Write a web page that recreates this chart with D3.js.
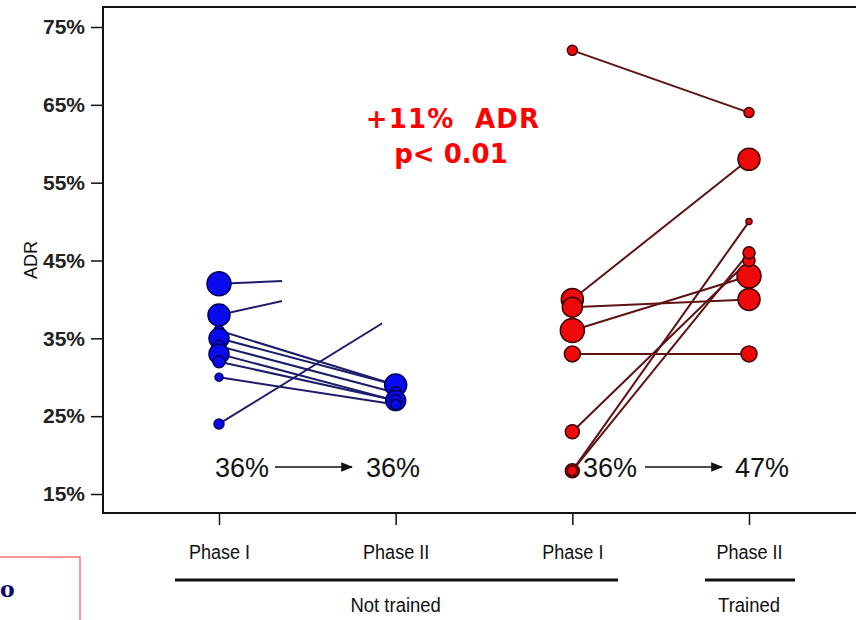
<!DOCTYPE html>
<html>
<head>
<meta charset="utf-8">
<script src="https://cdn.jsdelivr.net/npm/d3@7"></script>
<style>
  body { margin: 0; background: #fff; }
  svg { display: block; font-family: "Liberation Sans", Arial, sans-serif; }
</style>
</head>
<body>
<svg width="856" height="620"></svg>
<script>
// tick labels
var yTicks = [15, 25, 35, 45, 55, 65, 75];
var phases = ["Phase I", "Phase II", "Phase I", "Phase II"];
var groupLabels = ["Not trained", "Trained"];

// not trained (blue): phase I value, phase II value, circle radius at each end
var blueI = [42, 38, 36, 35, 34, 33, 32, 30, 24];
var blueII = [43, 43, 29, 29, 28, 27, 27, 26.5, 38];
var blueRI = [12, 11, 5, 10, 6, 10, 6, 4, 5];
var blueRII = [0, 0, 6, 11, 6, 10, 6, 5, 0];

// trained (red)
var redI = [72, 40, 39, 36, 33, 23, 18, 18];
var redII = [64, 58, 40, 43, 33, 45, 50, 46];
var redRI = [5, 11, 10, 12, 8, 7, 7, 5];
var redRII = [5, 11, 11, 12, 8, 6, 3, 6];

var means = [["36%", "36%"], ["36%", "47%"]];

var svg = d3.select("svg");

var y = d3.scaleLinear().domain([15, 75]).range([494, 27]);
var x = d3.scalePoint().domain([0, 1, 2, 3]).range([219, 749]);

var frame = { left: 103, top: 7, bottom: 513 };
var sans = "'Liberation Sans', Arial, sans-serif";

// plot frame (right side runs off the picture)
svg.append("path")
  .attr("d", "M880," + frame.top + "H" + frame.left + "V" + frame.bottom + "H880")
  .attr("fill", "none")
  .attr("stroke", "#111")
  .attr("stroke-width", 2);

// y axis
var yAxis = svg.append("g")
  .attr("transform", "translate(" + frame.left + ",0)")
  .call(d3.axisLeft(y).tickValues(yTicks).tickSize(12).tickPadding(6)
    .tickFormat(function (d) { return d + "%"; }));
yAxis.select(".domain").remove();
yAxis.attr("font-size", null).attr("font-family", null);
yAxis.selectAll("line").attr("stroke", "#111").attr("stroke-width", 1.5);
yAxis.selectAll("text")
  .attr("x", -18)
  .style("font-size", "21px")
  .style("font-weight", "bold")
  .style("font-family", sans)
  .attr("fill", "#222");

svg.append("text")
  .attr("transform", "translate(37,260) rotate(-90)")
  .attr("text-anchor", "middle")
  .style("font-size", "18px")
  .style("font-family", sans)
  .attr("fill", "#111")
  .text("ADR");

// x axis
var xAxis = svg.append("g")
  .attr("transform", "translate(0," + frame.bottom + ")")
  .call(d3.axisBottom(x).tickSize(12).tickPadding(19)
    .tickFormat(function (d) { return phases[d]; }));
xAxis.select(".domain").remove();
xAxis.attr("font-size", null).attr("font-family", null);
xAxis.selectAll("line").attr("stroke", "#111").attr("stroke-width", 1.5);
xAxis.selectAll("text")
  .attr("transform", "scale(0.86,1)")
  .style("font-size", "21px")
  .style("font-family", sans)
  .attr("fill", "#111");

// group brackets
var groups = [
  { label: groupLabels[0], x1: 175, x2: 618, cx: x(1) },
  { label: groupLabels[1], x1: 705, x2: 795, cx: x(3) }
];
groups.forEach(function (g) {
  svg.append("line")
    .attr("x1", g.x1).attr("x2", g.x2)
    .attr("y1", 580).attr("y2", 580)
    .attr("stroke", "#111").attr("stroke-width", 3);
  svg.append("text")
    .attr("transform", "translate(" + g.cx + ",612) scale(0.88,1)")
    .attr("text-anchor", "middle")
    .style("font-size", "21px")
    .style("font-family", sans)
    .attr("fill", "#111")
    .text(g.label);
});

function drawGroup(vI, vII, xi, col) {
  var g = svg.append("g");
  g.selectAll("line.pair")
    .data(d3.range(vI.length))
    .enter()
    .append("line")
    .attr("class", "pair")
    .attr("x1", x(xi)).attr("y1", function (i) { return y(vI[i]); })
    .attr("x2", x(xi + 1)).attr("y2", function (i) { return y(vII[i]); })
    .attr("stroke", col.line)
    .attr("stroke-width", 2);
  return g;
}

function drawDots(g, vals, rads, xi, col) {
  g.selectAll(null)
    .data(d3.range(vals.length).filter(function (i) { return rads[i] > 0; }))
    .enter()
    .append("circle")
    .attr("cx", x(xi))
    .attr("cy", function (i) { return y(vals[i]); })
    .attr("r", function (i) { return rads[i]; })
    .attr("fill", col.fill)
    .attr("stroke", col.stroke)
    .attr("stroke-width", 1.5);
}

var blueCol = { line: "#1c1c6a", fill: "#0a0aee", stroke: "#00005a" };
var redCol = { line: "#5e1212", fill: "#ee0a0a", stroke: "#3a0000" };

drawGroup(blueI, blueII, 0, blueCol);

// part of the not-trained lines is blanked out in the original figure
svg.append("rect").attr("x", 282).attr("y", 200).attr("width", 150).attr("height", 104).attr("fill", "#fff");
svg.append("rect").attr("x", 382).attr("y", 200).attr("width", 50).attr("height", 124).attr("fill", "#fff");

var gb2 = svg.append("g");
drawDots(gb2, blueI, blueRI, 0, blueCol);
drawDots(gb2, blueII, blueRII, 1, blueCol);

var gr = drawGroup(redI, redII, 2, redCol);
drawDots(gr, redI, redRI, 2, redCol);
drawDots(gr, redII, redRII, 3, redCol);

// mean annotations
svg.append("defs").append("marker")
  .attr("id", "arr")
  .attr("viewBox", "0 0 10 10")
  .attr("refX", 9).attr("refY", 5)
  .attr("markerWidth", 8).attr("markerHeight", 8)
  .attr("orient", "auto")
  .append("path")
  .attr("d", "M0,1L10,5L0,9Z")
  .attr("fill", "#111");

[[0, 215, 275, 352, 366], [1, 583, 645, 722, 735]].forEach(function (m) {
  svg.append("text")
    .attr("x", m[1]).attr("y", 477)
    .style("font-size", "27px")
    .style("font-family", sans)
    .attr("fill", "#111")
    .text(means[m[0]][0]);
  svg.append("line")
    .attr("x1", m[2]).attr("x2", m[3])
    .attr("y1", 467).attr("y2", 467)
    .attr("stroke", "#111").attr("stroke-width", 1.5)
    .attr("marker-end", "url(#arr)");
  svg.append("text")
    .attr("x", m[4]).attr("y", 477)
    .style("font-size", "27px")
    .style("font-family", sans)
    .attr("fill", "#111")
    .text(means[m[0]][1]);
});

// result note
svg.append("text")
  .attr("x", 453).attr("y", 128)
  .attr("text-anchor", "middle")
  .style("font-size", "26px").style("font-weight", "bold")
  .style("letter-spacing", "1.2px")
  .style("font-family", "'DejaVu Sans', Verdana, sans-serif")
  .style("white-space", "pre")
  .attr("fill", "#ff0000")
  .text("+11%  ADR");
svg.append("text")
  .attr("x", 451).attr("y", 163)
  .attr("text-anchor", "middle")
  .style("font-size", "26px").style("font-weight", "bold")
  .style("font-family", "'DejaVu Sans', Verdana, sans-serif")
  .attr("fill", "#ff0000")
  .text("p< 0.01");

// box in the lower left corner
svg.append("rect")
  .attr("x", -5).attr("y", 557).attr("width", 85).attr("height", 80)
  .attr("fill", "none").attr("stroke", "#ff5050").attr("stroke-width", 1.2);
svg.append("text")
  .attr("x", 0).attr("y", 597)
  .style("font-size", "22px").style("font-weight", "bold")
  .style("font-family", "'DejaVu Serif', serif")
  .attr("fill", "#0a0a6a")
  .text("o");
</script>
</body>
</html>
